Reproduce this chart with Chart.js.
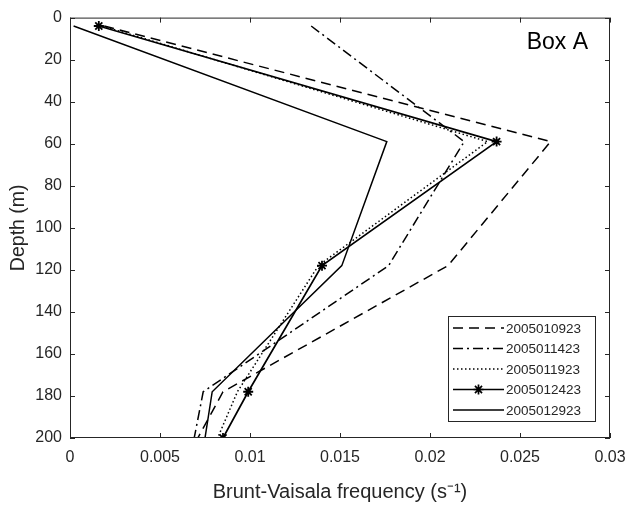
<!DOCTYPE html>
<html>
<head>
<meta charset="utf-8">
<script src="https://cdn.jsdelivr.net/npm/chart.js@4.4.0/dist/chart.umd.min.js"></script>
<style>
  html, body { margin: 0; padding: 0; background: #fff; }
</style>
</head>
<body>
<canvas id="bvChart" width="640" height="513"></canvas>
<script>
// depth levels (m) shared by every profile
const depths = [4, 59, 118, 178, 200];

// Brunt-Vaisala frequency (s^-1) per profile
const run2005010923 = [0.0019, 0.0267, 0.0210, 0.0085, 0.0071];
const run2005011423 = [0.0134, 0.0219, 0.0177, 0.0074, 0.0069];
const run2005011923 = [0.0018, 0.0232, 0.0138, 0.0093, 0.0082];
const run2005012423 = [0.0016, 0.0237, 0.0140, 0.0099, 0.0085];
const run2005012923 = [0.0002, 0.0176, 0.0151, 0.0079, 0.0075];

const seriesLabels = ['2005010923', '2005011423', '2005011923', '2005012423', '2005012923'];
const xTickValues = [0, 0.005, 0.01, 0.015, 0.02, 0.025, 0.03];
const yTickValues = [0, 20, 40, 60, 80, 100, 120, 140, 160, 180, 200];

const axisColor = '#262626';
const fontFamily = '"Liberation Sans", Arial, sans-serif';

// line look for each profile (MATLAB style: --, -., :, -*, -)
const lineLooks = [
  { dash: [10, 6], width: 1.5, marker: false },
  { dash: [10, 4, 2, 4], width: 1.5, marker: false },
  { dash: [1.5, 2.5], width: 1.5, marker: false },
  { dash: [], width: 1.7, marker: true },
  { dash: [], width: 1.5, marker: false }
];

const allRuns = [run2005010923, run2005011423, run2005011923, run2005012423, run2005012923];

const datasets = allRuns.map((vals, i) => ({
  label: seriesLabels[i],
  data: vals.map((v, k) => ({ x: v, y: depths[k] })), // x = frequency, y = depth
  showLine: true,
  borderColor: '#000',
  backgroundColor: '#000',
  borderWidth: lineLooks[i].width,
  borderDash: lineLooks[i].dash,
  pointStyle: 'star',
  pointRadius: lineLooks[i].marker ? 5 : 0,
  pointBorderWidth: 1.8,
  pointHoverRadius: lineLooks[i].marker ? 5 : 0,
  tension: 0
}));

// box, inward ticks, legend and panel label drawn on top like MATLAB does
const matlabFrame = {
  id: 'matlabFrame',
  afterDatasetsDraw(chart) {
    const { ctx, chartArea: a, scales } = chart;
    const tk = 5;
    ctx.save();
    ctx.setLineDash([]);
    ctx.strokeStyle = axisColor;
    ctx.lineWidth = 1;
    ctx.strokeRect(a.left + 0.5, a.top + 0.5, a.width - 1, a.height - 1);
    ctx.beginPath();
    xTickValues.forEach(v => {
      const px = Math.round(scales.x.getPixelForValue(v)) + 0.5;
      ctx.moveTo(px, a.bottom); ctx.lineTo(px, a.bottom - tk);
      ctx.moveTo(px, a.top); ctx.lineTo(px, a.top + tk);
    });
    yTickValues.forEach(v => {
      const py = Math.round(scales.y.getPixelForValue(v)) + 0.5;
      ctx.moveTo(a.left, py); ctx.lineTo(a.left + tk, py);
      ctx.moveTo(a.right, py); ctx.lineTo(a.right - tk, py);
    });
    ctx.stroke();

    // legend box in lower right corner
    const bw = 147, bh = 105;
    const bx = a.right - 15 - bw, by = a.bottom - 17 - bh;
    ctx.fillStyle = '#fff';
    ctx.fillRect(bx, by, bw, bh);
    ctx.strokeRect(Math.round(bx) + 0.5, Math.round(by) + 0.5, bw, bh);
    ctx.font = '13.5px ' + fontFamily;
    ctx.textBaseline = 'middle';
    ctx.textAlign = 'left';
    chart.data.datasets.forEach((ds, i) => {
      const ly = by + 12 + i * 20.5;
      ctx.strokeStyle = '#000';
      ctx.lineWidth = ds.borderWidth;
      ctx.setLineDash(ds.borderDash);
      ctx.beginPath();
      ctx.moveTo(bx + 5, ly); ctx.lineTo(bx + 56, ly);
      ctx.stroke();
      ctx.setLineDash([]);
      if (ds.pointRadius > 0) {
        Chart.helpers.drawPoint(ctx, { pointStyle: 'star', radius: 5, borderWidth: 1.8 }, bx + 30.5, ly);
      }
      ctx.fillStyle = axisColor;
      ctx.fillText(ds.label, bx + 58, ly + 1);
    });

    // panel label
    ctx.font = '23px ' + fontFamily;
    ctx.textAlign = 'right';
    ctx.fillStyle = '#000';
    ctx.fillText('Box A', a.right - 22, a.top + 25);
    ctx.restore();
  }
};

new Chart(document.getElementById('bvChart').getContext('2d'), {
  type: 'scatter',
  data: { datasets: datasets },
  options: {
    responsive: false,
    animation: false,
    devicePixelRatio: 1,
    layout: { padding: { top: 16, right: 30, left: 0, bottom: 0 } },
    plugins: { legend: { display: false }, tooltip: { enabled: false } },
    scales: {
      x: {
        type: 'linear',
        min: 0, max: 0.03,
        afterBuildTicks: s => { s.ticks = xTickValues.map(v => ({ value: v })); },
        afterFit: s => { s.height = 75; },
        grid: { display: false, drawTicks: false },
        border: { display: false },
        ticks: {
          padding: 10,
          color: axisColor,
          font: { family: fontFamily, size: 16 },
          maxRotation: 0,
          callback: v => String(parseFloat(Number(v).toFixed(3)))
        },
        title: {
          display: true,
          text: 'Brunt-Vaisala frequency (s⁻¹)',
          color: axisColor,
          font: { family: fontFamily, size: 20 },
          padding: { top: 0, bottom: 9 }
        }
      },
      y: {
        type: 'linear',
        reverse: true, // depth grows downward
        min: 0, max: 200,
        afterBuildTicks: s => { s.ticks = yTickValues.map(v => ({ value: v })); },
        afterFit: s => { s.width = 70; },
        grid: { display: false, drawTicks: false },
        border: { display: false },
        ticks: {
          padding: 8,
          color: axisColor,
          font: { family: fontFamily, size: 16 }
        },
        title: {
          display: true,
          text: 'Depth (m)',
          color: axisColor,
          font: { family: fontFamily, size: 19.5 },
          padding: { top: 6.5, bottom: 0 }
        }
      }
    }
  },
  plugins: [matlabFrame]
});
</script>
</body>
</html>
